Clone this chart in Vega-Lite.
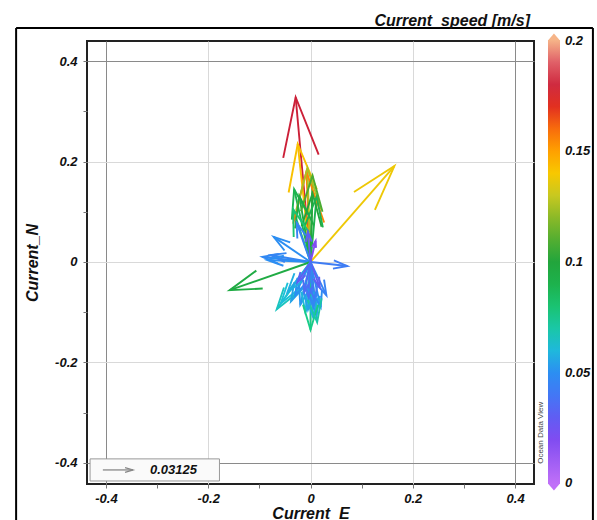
{
  "$schema": "https://vega.github.io/schema/vega-lite/v6.json",
  "width": 447,
  "height": 443,
  "autosize": {"type": "none"},
  "padding": {"left": 87, "top": 41, "right": 63, "bottom": 36},
  "background": "white",
  "title": {"text": "Current_speed [m/s]", "anchor": "end", "frame": "group", "offset": -18, "baseline": "bottom", "font": "Liberation Sans", "fontSize": 16, "fontStyle": "italic", "fontWeight": "bold", "color": "#111", "dx": -4},
  "config": {
    "view": {"stroke": "#222", "strokeWidth": 2},
    "axis": {"labelFont": "Liberation Sans", "labelFontSize": 13, "labelFontStyle": "italic", "labelFontWeight": "bold", "labelColor": "#111", "titleFont": "Liberation Sans", "titleFontSize": 16, "titleFontStyle": "italic", "titleFontWeight": "bold", "titleColor": "#111", "tickColor": "#777", "tickSize": 4, "domain": false, "gridWidth": 1, "labelFlush": false, "labelOverlap": false, "labelBound": false}
  },
  "data": {"values": [
    {"E": -0.029, "N": 0.328, "speed": 0.178, "dir": 354.9},
    {"E": -0.025, "N": 0.235, "speed": 0.142, "dir": 353.9},
    {"E": -0.008, "N": 0.18, "speed": 0.155, "dir": 357.5},
    {"E": 0.164, "N": 0.191, "speed": 0.138, "dir": 40.65},
    {"E": -0.006, "N": 0.187, "speed": 0.125, "dir": 358.2},
    {"E": 0.004, "N": 0.172, "speed": 0.108, "dir": 1.33},
    {"E": -0.032, "N": 0.145, "speed": 0.088, "dir": 347.6},
    {"E": -0.022, "N": 0.132, "speed": 0.095, "dir": 350.5},
    {"E": 0.004, "N": 0.137, "speed": 0.1, "dir": 1.67},
    {"E": 0.012, "N": 0.13, "speed": 0.09, "dir": 5.27},
    {"E": -0.034, "N": 0.105, "speed": 0.08, "dir": 342.1},
    {"E": -0.027, "N": 0.078, "speed": 0.045, "dir": 340.9},
    {"E": 0.01, "N": 0.042, "speed": 0.02, "dir": 13.39},
    {"E": -0.072, "N": 0.05, "speed": 0.05, "dir": 304.8},
    {"E": -0.094, "N": 0.01, "speed": 0.048, "dir": 276.1},
    {"E": -0.078, "N": 0.014, "speed": 0.046, "dir": 280.2},
    {"E": -0.085, "N": 0.004, "speed": 0.05, "dir": 272.7},
    {"E": 0.072, "N": -0.008, "speed": 0.042, "dir": 96.34},
    {"E": -0.158, "N": -0.056, "speed": 0.095, "dir": 250.5},
    {"E": -0.066, "N": -0.094, "speed": 0.066, "dir": 215.1},
    {"E": -0.058, "N": -0.082, "speed": 0.062, "dir": 215.3},
    {"E": -0.038, "N": -0.078, "speed": 0.055, "dir": 206.0},
    {"E": -0.03, "N": -0.066, "speed": 0.05, "dir": 204.4},
    {"E": -0.045, "N": -0.06, "speed": 0.058, "dir": 216.9},
    {"E": -0.02, "N": -0.085, "speed": 0.052, "dir": 193.2},
    {"E": -0.01, "N": -0.1, "speed": 0.06, "dir": 185.7},
    {"E": 0.005, "N": -0.11, "speed": 0.058, "dir": 177.4},
    {"E": 0.012, "N": -0.105, "speed": 0.055, "dir": 173.5},
    {"E": 0.02, "N": -0.09, "speed": 0.05, "dir": 167.5},
    {"E": 0.031, "N": -0.066, "speed": 0.045, "dir": 154.8},
    {"E": 0.0, "N": -0.135, "speed": 0.075, "dir": 180},
    {"E": 0.013, "N": -0.12, "speed": 0.07, "dir": 173.8},
    {"E": -0.005, "N": -0.095, "speed": 0.055, "dir": 183.0},
    {"E": 0.008, "N": -0.075, "speed": 0.04, "dir": 173.9},
    {"E": -0.012, "N": -0.06, "speed": 0.035, "dir": 191.3},
    {"E": 0.018, "N": -0.05, "speed": 0.03, "dir": 160.2},
    {"E": -0.005, "N": 0.06, "speed": 0.03, "dir": 355.2},
    {"E": -0.025, "N": -0.04, "speed": 0.03, "dir": 212.0},
    {"E": 0.006, "N": -0.09, "speed": 0.047, "dir": 176.2},
    {"E": -0.004, "N": -0.07, "speed": 0.038, "dir": 183.3}
  ]},
  "layer": [
    {
      "mark": {"type": "rule", "strokeWidth": 1.9, "opacity": 1},
      "encoding": {
        "x": {"field": "E", "type": "quantitative", "scale": {"domain": [-0.437, 0.437], "nice": false, "zero": false},
          "axis": {"title": "Current_E", "values": [-0.4, -0.3, -0.2, -0.1, 0, 0.1, 0.2, 0.3, 0.4],
            "labelExpr": "round(datum.value*10) % 2 == 0 ? '' + datum.value : ''",
            "gridColor": {"condition": {"test": "abs(datum.value) > 0.35", "value": "#8a8a8a"}, "value": "#d9d9d9"},
            "gridOpacity": {"condition": {"test": "round(datum.value*10) % 2 != 0", "value": 0}, "value": 1},
            "labelPadding": 4, "titlePadding": 0}},
        "y": {"field": "N", "type": "quantitative", "scale": {"domain": [-0.442, 0.44], "nice": false, "zero": false},
          "axis": {"title": "Current_N", "values": [-0.4, -0.3, -0.2, -0.1, 0, 0.1, 0.2, 0.3, 0.4],
            "labelExpr": "round(datum.value*10) % 2 == 0 ? '' + datum.value : ''",
            "gridColor": {"condition": {"test": "abs(datum.value) > 0.35", "value": "#8a8a8a"}, "value": "#d9d9d9"},
            "gridOpacity": {"condition": {"test": "round(datum.value*10) % 2 != 0", "value": 0}, "value": 1},
            "labelPadding": 6, "titlePadding": 14}},
        "x2": {"datum": 0},
        "y2": {"datum": 0},
        "color": {"field": "speed", "type": "quantitative",
          "scale": {"type": "linear", "interpolate": "rgb",
            "domain": [0, 0.022, 0.037, 0.05, 0.062, 0.075, 0.088, 0.1, 0.115, 0.13, 0.14, 0.15, 0.16, 0.168, 0.178, 0.19, 0.2],
            "range": ["#c070f8", "#7a48f0", "#4a70f6", "#2c8ef2", "#1cc0d8", "#18cc88", "#1cb450", "#22a53c", "#6cb22c", "#c8c820", "#f8c800", "#ffa000", "#f86c0c", "#e8341a", "#cc2038", "#e06068", "#f6b488"]},
          "legend": {"title": null, "orient": "none", "legendX": 461, "legendY": -1, "direction": "vertical", "gradientLength": 444, "gradientThickness": 12, "gradientStrokeWidth": 0, "gradientOpacity": 1, "values": [0.0005, 0.05, 0.1, 0.15, 0.1995], "format": ".2~f", "labelFont": "Liberation Sans", "labelFontSize": 13, "labelFontStyle": "italic", "labelFontWeight": "bold", "labelColor": "#111", "labelOffset": 5}}
      }
    },
    {
      "mark": {"type": "point", "shape": "M -0.3 1 L 0 0 L 0.3 1", "filled": false, "strokeWidth": 1.9, "opacity": 1},
      "encoding": {
        "x": {"field": "E", "type": "quantitative"},
        "y": {"field": "N", "type": "quantitative"},
        "color": {"field": "speed", "type": "quantitative"},
        "size": {"field": "speed", "type": "quantitative", "scale": {"type": "pow", "exponent": 2, "domain": [0, 0.2], "range": [0, 17742]}, "legend": null},
        "angle": {"field": "dir", "type": "quantitative", "scale": null}
      }
    },
    {
      "data": {"values": [{}]},
      "mark": {"type": "rect", "fill": "#fafafa", "stroke": "#999", "strokeWidth": 1},
      "encoding": {"x": {"datum": -0.431}, "x2": {"datum": -0.178}, "y": {"datum": -0.392}, "y2": {"datum": -0.436}}
    },
    {
      "data": {"values": [{}]},
      "mark": {"type": "rule", "color": "#888", "strokeWidth": 1.3},
      "encoding": {"x": {"datum": -0.406}, "x2": {"datum": -0.347}, "y": {"datum": -0.414}}
    },
    {
      "data": {"values": [{}]},
      "mark": {"type": "point", "shape": "M -0.3 1 L 0 0 L 0.3 1", "filled": false, "strokeWidth": 1.3, "opacity": 1, "color": "#888", "angle": 90, "size": 256},
      "encoding": {"x": {"datum": -0.347}, "y": {"datum": -0.414}}
    },
    {
      "data": {"values": [{}]},
      "mark": {"type": "text", "text": "0.03125", "align": "left", "baseline": "middle", "font": "Liberation Sans", "fontSize": 13, "fontStyle": "italic", "fontWeight": "bold", "color": "#111"},
      "encoding": {"x": {"datum": -0.314}, "y": {"datum": -0.414}}
    },
    {
      "data": {"values": [{}]},
      "mark": {"type": "text", "text": "Ocean Data View", "align": "center", "baseline": "middle", "angle": 270, "font": "Liberation Sans", "fontSize": 8, "color": "#444"},
      "encoding": {"x": {"datum": 0.451}, "y": {"datum": -0.34}}
    },
    {
      "data": {"values": [{}]},
      "mark": {"type": "point", "shape": "M -1 0.6 L 0 -0.6 L 1 0.6 Z", "filled": true, "opacity": 1, "color": "#f6b488", "size": 144},
      "encoding": {"x": {"datum": 0.476}, "y": {"datum": 0.448}}
    },
    {
      "data": {"values": [{}]},
      "mark": {"type": "point", "shape": "M -1 -0.6 L 0 0.6 L 1 -0.6 Z", "filled": true, "opacity": 1, "color": "#c070f8", "size": 144},
      "encoding": {"x": {"datum": 0.476}, "y": {"datum": -0.448}}
    },
    {
      "data": {"values": [{}]},
      "mark": {"type": "rule", "color": "#000", "strokeWidth": 2},
      "encoding": {"x": {"datum": -0.5756}, "y": {"datum": 0.4657}, "y2": {"datum": -0.7}}
    },
    {
      "data": {"values": [{}]},
      "mark": {"type": "rule", "color": "#000", "strokeWidth": 2},
      "encoding": {"x": {"datum": -0.5756}, "x2": {"datum": 0.5522}, "y": {"datum": 0.4657}}
    },
    {
      "data": {"values": [{}]},
      "mark": {"type": "rule", "color": "#000", "strokeWidth": 2},
      "encoding": {"x": {"datum": 0.5522}, "y": {"datum": 0.4657}, "y2": {"datum": -0.7}}
    }
  ]
}
